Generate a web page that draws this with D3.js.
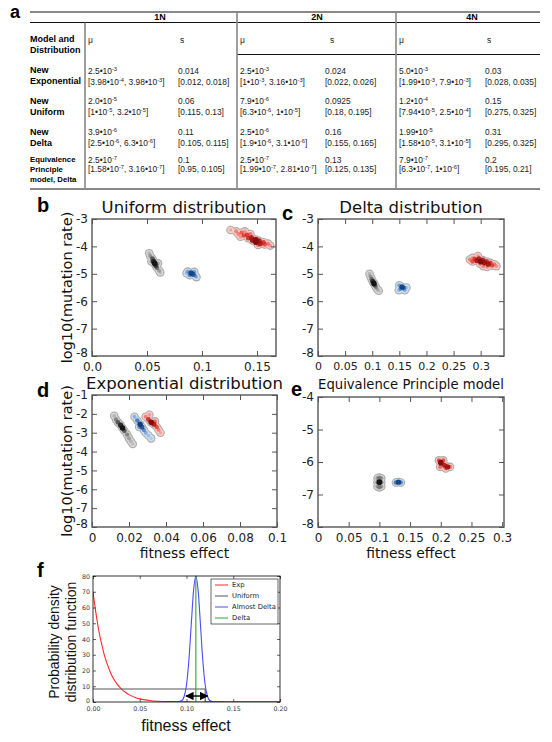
<!DOCTYPE html>
<html><head><meta charset="utf-8">
<script src="https://cdn.jsdelivr.net/npm/d3@7"></script>
<style>body{margin:0;background:#fff}svg{display:block}</style>
</head><body>
<script>
// ---------------- DATA ----------------
// (a) table
const tableColumns = ["1N", "2N", "4N"];
const rowLabels = [["New", "Exponential"], ["New", "Uniform"], ["New", "Delta"], ["Equivalence", "Principle", "model, Delta"]];
const muEstimate = [
  ["2.5•10^{-3}", "2.5•10^{-3}", "5.0•10^{-3}"],
  ["2.0•10^{-5}", "7.9•10^{-6}", "1.2•10^{-4}"],
  ["3.9•10^{-6}", "2.5•10^{-6}", "1.99•10^{-5}"],
  ["2.5•10^{-7}", "2.5•10^{-7}", "7.9•10^{-7}"]
];
const muInterval = [
  ["[3.98•10^{-4}, 3.98•10^{-3}]", "[1•10^{-3}, 3.16•10^{-3}]", "[1.99•10^{-3}, 7.9•10^{-3}]"],
  ["[1•10^{-5}, 3.2•10^{-5}]", "[6.3•10^{-6}, 1•10^{-5}]", "[7.94•10^{-5}, 2.5•10^{-4}]"],
  ["[2.5•10^{-6}, 6.3•10^{-6}]", "[1.9•10^{-6}, 3.1•10^{-6}]", "[1.58•10^{-5}, 3.1•10^{-5}]"],
  ["[1.58•10^{-7}, 3.16•10^{-7}]", "[1.99•10^{-7}, 2.81•10^{-7}]", "[6.3•10^{-7}, 1•10^{-6}]"]
];
const sEstimate = [["0.014", "0.024", "0.03"], ["0.06", "0.0925", "0.15"], ["0.11", "0.16", "0.31"], ["0.1", "0.13", "0.2"]];
const sInterval = [
  ["[0.012, 0.018]", "[0.022, 0.026]", "[0.028, 0.035]"],
  ["[0.115, 0.13]", "[0.18, 0.195]", "[0.275, 0.325]"],
  ["[0.105, 0.115]", "[0.155, 0.165]", "[0.295, 0.325]"],
  ["[0.95, 0.105]", "[0.125, 0.135]", "[0.195, 0.21]"]
];

// (b)-(e) posterior clouds: [fitness effect, log10(mutation rate), density level]
const uniformBlack = [[0.052,-4.25,0.2],[0.053,-4.35,0.4],[0.055,-4.45,0.7],[0.056,-4.55,0.9],[0.057,-4.62,1],[0.058,-4.7,0.8],[0.059,-4.78,0.6],[0.061,-4.88,0.35],[0.062,-4.95,0.15],[0.054,-4.55,0.3],[0.06,-4.62,0.3]];
const uniformBlue = [[0.087,-4.92,0.4],[0.09,-4.97,0.9],[0.092,-5.02,0.8],[0.094,-5.08,0.4],[0.089,-5.05,0.5],[0.093,-4.93,0.4],[0.086,-4.98,0.2],[0.095,-5.12,0.2]];
const uniformRed = [[0.126,-3.40,0.1],[0.131,-3.45,0.3],[0.133,-3.55,0.3],[0.136,-3.5,0.45],[0.138,-3.6,0.55],[0.141,-3.58,0.6],[0.142,-3.7,0.65],[0.145,-3.68,0.8],[0.146,-3.78,0.9],[0.149,-3.75,0.95],[0.149,-3.85,1],[0.152,-3.8,0.85],[0.153,-3.9,0.8],[0.156,-3.85,0.6],[0.157,-3.93,0.5],[0.16,-3.9,0.35],[0.162,-3.97,0.2],[0.139,-3.45,0.2],[0.144,-3.55,0.35],[0.151,-3.95,0.4],[0.135,-3.65,0.2]];

const deltaBlack = [[0.095,-5.0,0.2],[0.097,-5.1,0.4],[0.099,-5.2,0.6],[0.101,-5.28,0.85],[0.103,-5.35,1],[0.105,-5.42,0.7],[0.107,-5.5,0.45],[0.11,-5.58,0.2],[0.112,-5.62,0.1]];
const deltaBlue = [[0.15,-5.42,0.4],[0.155,-5.48,0.9],[0.158,-5.52,0.7],[0.152,-5.55,0.5],[0.16,-5.6,0.3],[0.149,-5.6,0.2],[0.163,-5.5,0.2]];
const deltaRed = [[0.28,-4.48,0.3],[0.285,-4.55,0.5],[0.289,-4.45,0.6],[0.293,-4.52,0.85],[0.297,-4.45,0.8],[0.3,-4.55,1],[0.304,-4.5,0.8],[0.307,-4.6,0.9],[0.311,-4.55,0.7],[0.314,-4.65,0.85],[0.318,-4.6,0.6],[0.321,-4.7,0.5],[0.325,-4.65,0.35],[0.329,-4.72,0.2],[0.295,-4.35,0.2],[0.305,-4.72,0.3],[0.299,-4.63,0.4],[0.312,-4.75,0.25],[0.285,-4.42,0.2]];

const expBlack = [[0.012,-2.1,0.2],[0.013,-2.3,0.5],[0.014,-2.45,0.7],[0.0155,-2.6,0.9],[0.0165,-2.75,1],[0.0175,-2.9,0.7],[0.019,-3.1,0.5],[0.02,-3.3,0.35],[0.021,-3.45,0.2],[0.022,-3.6,0.1]];
const expBlue = [[0.023,-2.15,0.3],[0.0245,-2.35,0.6],[0.026,-2.55,0.95],[0.027,-2.7,0.8],[0.028,-2.85,0.5],[0.029,-3.0,0.35],[0.0305,-3.15,0.2],[0.032,-3.3,0.1],[0.0255,-2.7,0.4]];
const expRed = [[0.029,-2.15,0.3],[0.0305,-2.3,0.7],[0.032,-2.45,1],[0.0335,-2.55,0.8],[0.035,-2.7,0.5],[0.036,-2.85,0.3],[0.037,-3.0,0.1],[0.031,-2.05,0.2],[0.034,-2.4,0.4]];

const epBlack = [[0.097,-6.5,0.4],[0.103,-6.5,0.4],[0.1,-6.62,1],[0.097,-6.75,0.4],[0.103,-6.75,0.4],[0.1,-6.78,0.5],[0.1,-6.48,0.5],[0.097,-6.62,0.5],[0.103,-6.62,0.5]];
const epBlue = [[0.127,-6.63,0.6],[0.131,-6.62,0.9],[0.135,-6.63,0.5]];
const epRed = [[0.197,-5.95,0.5],[0.2,-6.02,1],[0.204,-5.95,0.5],[0.206,-6.1,0.8],[0.211,-6.15,0.9],[0.215,-6.15,0.4],[0.199,-6.15,0.4],[0.208,-6.2,0.4]];

// tick labels
const xTicksUniform = [0, 0.05, 0.1, 0.15];
const xTickLabelsUniform = ["0.0", "0.05", "0.1", "0.15"];
const xTicksDelta = [0, 0.05, 0.1, 0.15, 0.2, 0.25, 0.3];
const xTickLabelsDelta = ["0", "0.05", "0.1", "0.15", "0.2", "0.25", "0.3"];
const xTicksExp = [0, 0.02, 0.04, 0.06, 0.08, 0.1];
const xTickLabelsExp = ["0", "0.02", "0.04", "0.06", "0.08", "0.1"];
const xTicksEP = [0, 0.05, 0.1, 0.15, 0.2, 0.25, 0.3];
const xTickLabelsEP = ["0", "0.05", "0.1", "0.15", "0.2", "0.25", "0.3"];
const yTicksB = [-3, -4, -5, -6, -7, -8];
const yTicksD = [-1, -2, -3, -4, -5, -6, -7, -8];
const yTicksE = [-4, -5, -6, -7, -8];

// (f) probability density functions
const expX = [0, 0.0025, 0.005, 0.0075, 0.01, 0.0125, 0.015, 0.0175, 0.02, 0.025, 0.03, 0.035, 0.04, 0.045, 0.05, 0.06, 0.07, 0.08, 0.09, 0.1, 0.12, 0.14, 0.16, 0.18, 0.2];
const expY = [70, 59, 49.5, 41.5, 35, 29, 24.5, 20.5, 17, 12, 8.5, 6, 4.2, 2.9, 2.0, 1.0, 0.5, 0.25, 0.12, 0.06, 0.02, 0, 0, 0, 0];
const uniformX = [0, 0.12, 0.12, 0.2];
const uniformY = [8.3, 8.3, 0, 0];
const almostDeltaX = [0.08, 0.09, 0.095, 0.0975, 0.1, 0.1025, 0.105, 0.1075, 0.11, 0.1125, 0.115, 0.1175, 0.12, 0.1225, 0.125, 0.13, 0.14];
const almostDeltaY = [0, 0.03, 0.9, 3.5, 10.8, 26, 48.4, 70.4, 80, 70.4, 48.4, 26, 10.8, 3.5, 0.9, 0.03, 0];
const deltaX = [0.11, 0.11];
const deltaY = [0, 80];
const arrowX = [0.0995, 0.1225];
const arrowY = 3.8;
const legendNames = ["Exp", "Uniform", "Almost Delta", "Delta"];
const fXTicks = [0, 0.05, 0.1, 0.15, 0.2];
const fYTicks = [0, 10, 20, 30, 40, 50, 60, 70, 80];

// ---------------- DRAWING ----------------
const W = 552, H = 742;
const SANS = "'Liberation Sans', Arial, sans-serif";
const DJV = "'DejaVu Sans', sans-serif";
const svg = d3.select("body").append("svg").attr("width", W).attr("height", H)
  .style("font-family", SANS);
const defs = svg.append("defs");
defs.append("filter").attr("id", "soft").attr("x", "-10%").attr("y", "-10%").attr("width", "120%").attr("height", "120%")
  .append("feGaussianBlur").attr("stdDeviation", 0.55);
const mk = defs.append("marker").attr("id", "ah").attr("viewBox", "0 0 10 10").attr("refX", 9).attr("refY", 5)
  .attr("markerWidth", 6).attr("markerHeight", 6).attr("orient", "auto-start-reverse");
mk.append("path").attr("d", "M0,0 L10,5 L0,10 z").attr("fill", "#000");

// ---- table ----
function rich(textSel, str, size) {
  const parts = str.split(/(\^\{[^}]*\})/).filter(p => p.length);
  let shifted = false;
  const up = size * 0.4;
  parts.forEach(p => {
    if (p.startsWith("^{")) {
      textSel.append("tspan").attr("font-size", size * 0.68).attr("dy", -up).text(p.slice(2, -1));
      shifted = true;
    } else {
      const t = textSel.append("tspan").text(p);
      if (shifted) { t.attr("dy", up); shifted = false; }
    }
  });
}
const T = svg.append("g");
T.append("text").attr("x", 10).attr("y", 18).attr("font-weight", "bold").attr("font-size", 18).text("a");
const tl = (x1, y1, x2, y2, c, w) => T.append("line").attr("x1", x1).attr("y1", y1).attr("x2", x2).attr("y2", y2).attr("stroke", c).attr("stroke-width", w);
tl(30, 12, 540, 12, "#111", 1);
tl(30, 22.5, 540, 22.5, "#111", 1);
tl(237, 54.5, 540, 54.5, "#111", 1);
tl(30, 189, 540, 189, "#111", 1);
tl(85, 22.5, 85, 189, "#888", 1.6);
tl(237, 12, 237, 189, "#888", 1.6);
tl(396, 12, 396, 189, "#888", 1.6);
const groupCenters = [160, 317, 472];
tableColumns.forEach((c, i) => T.append("text").attr("x", groupCenters[i]).attr("y", 20).attr("text-anchor", "middle")
  .attr("font-weight", "bold").attr("font-size", 9).text(c));
T.append("text").attr("x", 30).attr("y", 42).attr("font-weight", "bold").attr("font-size", 9).text("Model and");
T.append("text").attr("x", 30).attr("y", 52.5).attr("font-weight", "bold").attr("font-size", 9).text("Distribution");
const muX = [88, 240, 399], sX = [178, 325, 485], sHeadX = [180, 330, 487];
tableColumns.forEach((c, i) => {
  T.append("text").attr("x", muX[i]).attr("y", 43).attr("font-size", 8.5).attr("fill", "#222").text("μ");
  T.append("text").attr("x", sHeadX[i]).attr("y", 43).attr("font-size", 8.5).attr("fill", "#222").text("s");
});
const valueBase = [[74, 85], [104, 115], [135, 146], [163, 172]];
const labelBase = [[73, 84], [104, 115], [135, 146], [162, 171.5, 181.5]];
rowLabels.forEach((lines, r) => {
  lines.forEach((l, k) => T.append("text").attr("x", 30).attr("y", labelBase[r][k]).attr("font-weight", "bold")
    .attr("font-size", r === 3 ? 7.8 : 9).text(l));
  tableColumns.forEach((c, i) => {
    rich(T.append("text").attr("x", muX[i]).attr("y", valueBase[r][0]).attr("font-size", 8.4).attr("fill", "#222"), muEstimate[r][i], 8.4);
    rich(T.append("text").attr("x", muX[i]).attr("y", valueBase[r][1]).attr("font-size", 8.4).attr("fill", "#222"), muInterval[r][i], 8.4);
    T.append("text").attr("x", sX[i]).attr("y", valueBase[r][0]).attr("font-size", 8.4).attr("fill", "#222").text(sEstimate[r][i]);
    T.append("text").attr("x", sX[i]).attr("y", valueBase[r][1]).attr("font-size", 8.4).attr("fill", "#222").text(sInterval[r][i]);
  });
});

// ---- scatter panels ----
const palettes = {
  black: { light: "#d6d6d6", ramp: ["#bdbdbd", "#6a6a6a", "#121212"] },
  blue: { light: "#cfe0f2", ramp: ["#a6c6e8", "#3a76bf", "#0a3270"] },
  red: { light: "#f8cdc8", ramp: ["#f2a19a", "#e3271f", "#860b0b"] }
};
function scatterPanel(cfg) {
  const x = d3.scaleLinear().domain(cfg.xDomain).range([cfg.left, cfg.right]);
  const y = d3.scaleLinear().domain(cfg.yDomain).range([cfg.bottom, cfg.top]);
  const g = svg.append("g").style("font-family", DJV);
  const layer = g.append("g").attr("filter", "url(#soft)");
  const all = cfg.blobs.flatMap(b => b.pts.map(p => ({ p, pal: palettes[b.color] })));
  layer.append("g").selectAll("circle").data(all).join("circle")
    .attr("cx", d => x(d.p[0])).attr("cy", d => y(d.p[1])).attr("r", 4.3).attr("fill", "#a9a9a9");
  layer.append("g").selectAll("circle").data(all).join("circle")
    .attr("cx", d => x(d.p[0])).attr("cy", d => y(d.p[1])).attr("r", 3.2).attr("fill", d => d.pal.light);
  const sorted = all.slice().sort((a, b) => a.p[2] - b.p[2]);
  layer.append("g").selectAll("circle").data(sorted).join("circle")
    .attr("cx", d => x(d.p[0])).attr("cy", d => y(d.p[1])).attr("r", d => 1.6 + 1.2 * d.p[2])
    .attr("fill", d => d3.scaleLinear().domain([0, 0.5, 1]).range(d.pal.ramp)(d.p[2]))
    .attr("opacity", d => 0.5 + 0.5 * d.p[2]);

  const tickStyle = sel => {
    sel.select(".domain").remove();
    sel.selectAll(".tick line").attr("stroke", "#555").attr("stroke-width", 1);
    sel.selectAll(".tick text").attr("fill", "#222");
  };
  const yMin = cfg.yDomain[0];
  g.append("g").attr("transform", `translate(0,${cfg.bottom})`)
    .call(d3.axisBottom(x).tickValues(cfg.xTicks).tickFormat((d, i) => cfg.xTickLabels[i]).tickSizeInner(-5).tickSizeOuter(0).tickPadding(6))
    .call(tickStyle).call(s => s.selectAll(".tick text").attr("font-size", cfg.xTickSize).style("font-family", DJV));
  g.append("g").attr("transform", `translate(0,${cfg.top})`)
    .call(d3.axisTop(x).tickValues(cfg.xTicks).tickFormat("").tickSizeInner(-5).tickSizeOuter(0))
    .call(tickStyle);
  g.append("g").attr("transform", `translate(${cfg.left},0)`)
    .call(d3.axisLeft(y).tickValues(cfg.yTicks).tickFormat(d => String(d)).tickSizeInner(-5).tickSizeOuter(0).tickPadding(4))
    .call(tickStyle).call(s => s.selectAll(".tick text").attr("font-size", 12).style("font-family", DJV))
    .call(s => s.selectAll(".tick text").filter(d => d === yMin).attr("dy", "0.08em"));
  g.append("g").attr("transform", `translate(${cfg.right},0)`)
    .call(d3.axisRight(y).tickValues(cfg.yTicks).tickFormat("").tickSizeInner(-5).tickSizeOuter(0))
    .call(tickStyle);
  g.append("rect").attr("x", cfg.left).attr("y", cfg.top).attr("width", cfg.right - cfg.left).attr("height", cfg.bottom - cfg.top)
    .attr("fill", "none").attr("stroke", "#555").attr("stroke-width", 1.4);

  g.append("text").attr("x", (cfg.left + cfg.right) / 2).attr("y", cfg.titleY).attr("text-anchor", "middle")
    .attr("font-size", cfg.titleSize).attr("fill", "#111").text(cfg.title);
  if (cfg.yLabel) {
    g.append("text").attr("transform", `translate(72,${(cfg.top + cfg.bottom) / 2}) rotate(-90)`).attr("text-anchor", "middle")
      .attr("font-size", 14.5).attr("fill", "#111").text("log10(mutation rate)");
  }
  if (cfg.xLabel) {
    g.append("text").attr("x", (cfg.left + cfg.right) / 2).attr("y", 558).attr("text-anchor", "middle")
      .attr("font-size", 13.8).attr("fill", "#111").text("fitness effect");
  }
  svg.append("text").attr("x", cfg.letterX).attr("y", cfg.letterY).attr("font-weight", "bold").attr("font-size", 20)
    .style("font-family", SANS).text(cfg.letter);
}

scatterPanel({ letter: "b", letterX: 37, letterY: 212, title: "Uniform distribution", titleSize: 16.5, titleY: 213,
  left: 92, right: 276, top: 219, bottom: 356, xDomain: [0, 0.1673], yDomain: [-8, -3],
  xTicks: xTicksUniform, xTickLabels: xTickLabelsUniform, xTickSize: 12, yTicks: yTicksB, yLabel: true, xLabel: false,
  blobs: [{ pts: uniformBlack, color: "black" }, { pts: uniformBlue, color: "blue" }, { pts: uniformRed, color: "red" }] });
scatterPanel({ letter: "c", letterX: 282, letterY: 220, title: "Delta distribution", titleSize: 16.5, titleY: 213,
  left: 318, right: 504, top: 219, bottom: 356, xDomain: [0, 0.343], yDomain: [-8, -3],
  xTicks: xTicksDelta, xTickLabels: xTickLabelsDelta, xTickSize: 11, yTicks: yTicksB, yLabel: false, xLabel: false,
  blobs: [{ pts: deltaBlack, color: "black" }, { pts: deltaBlue, color: "blue" }, { pts: deltaRed, color: "red" }] });
scatterPanel({ letter: "d", letterX: 37, letterY: 397, title: "Exponential distribution", titleSize: 16.5, titleY: 389,
  left: 92, right: 277, top: 395, bottom: 527, xDomain: [0, 0.1], yDomain: [-8, -1],
  xTicks: xTicksExp, xTickLabels: xTickLabelsExp, xTickSize: 12, yTicks: yTicksD, yLabel: true, xLabel: true,
  blobs: [{ pts: expBlack, color: "black" }, { pts: expBlue, color: "blue" }, { pts: expRed, color: "red" }] });
scatterPanel({ letter: "e", letterX: 291, letterY: 396, title: "Equivalence Principle model", titleSize: 13.2, titleY: 389,
  left: 318, right: 504, top: 397, bottom: 527, xDomain: [0, 0.303], yDomain: [-8, -4],
  xTicks: xTicksEP, xTickLabels: xTickLabelsEP, xTickSize: 12, yTicks: yTicksE, yLabel: false, xLabel: true,
  blobs: [{ pts: epBlack, color: "black" }, { pts: epBlue, color: "blue" }, { pts: epRed, color: "red" }] });

// ---- panel f ----
(function () {
  const L = 93, R = 280, Tp = 576, B = 702;
  const x = d3.scaleLinear().domain([0, 0.2]).range([L, R]);
  const y = d3.scaleLinear().domain([0, 80]).range([B, Tp]);
  const g = svg.append("g");
  const clipId = "fclip";
  defs.append("clipPath").attr("id", clipId).append("rect").attr("x", L).attr("y", Tp - 1).attr("width", R - L).attr("height", B - Tp + 1);
  const plot = g.append("g").attr("clip-path", `url(#${clipId})`);
  const line = d3.line().x(d => x(d[0])).y(d => y(d[1]));
  const series = [
    { name: legendNames[0], xs: expX, ys: expY, color: "#ff2a2a", curve: d3.curveMonotoneX },
    { name: legendNames[1], xs: uniformX, ys: uniformY, color: "#555555", curve: d3.curveLinear },
    { name: legendNames[2], xs: almostDeltaX, ys: almostDeltaY, color: "#4a4aff", curve: d3.curveMonotoneX },
    { name: legendNames[3], xs: deltaX, ys: deltaY, color: "#3c9a3c", curve: d3.curveLinear }
  ];
  series.forEach(s => {
    plot.append("path").datum(s.xs.map((v, i) => [v, s.ys[i]]))
      .attr("d", line.curve(s.curve)).attr("fill", "none").attr("stroke", s.color).attr("stroke-width", 1.1);
  });
  plot.append("line").attr("x1", x(arrowX[0])).attr("x2", x(arrowX[1])).attr("y1", y(arrowY)).attr("y2", y(arrowY))
    .attr("stroke", "#000").attr("stroke-width", 1.4).attr("marker-start", "url(#ah)").attr("marker-end", "url(#ah)");

  const tickStyle = sel => {
    sel.select(".domain").remove();
    sel.selectAll(".tick line").attr("stroke", "#000").attr("stroke-width", 0.6);
    sel.selectAll(".tick text").attr("fill", "#333").attr("font-size", 6.3).style("font-family", DJV);
  };
  g.append("g").attr("transform", `translate(0,${B})`)
    .call(d3.axisBottom(x).tickValues(fXTicks).tickFormat(d3.format(".2f")).tickSizeInner(-3).tickSizeOuter(0).tickPadding(5)).call(tickStyle);
  g.append("g").attr("transform", `translate(0,${Tp})`)
    .call(d3.axisTop(x).tickValues(fXTicks).tickFormat("").tickSizeInner(-3).tickSizeOuter(0)).call(tickStyle);
  g.append("g").attr("transform", `translate(${L},0)`)
    .call(d3.axisLeft(y).tickValues(fYTicks).tickFormat(d3.format("d")).tickSizeInner(-3).tickSizeOuter(0).tickPadding(3)).call(tickStyle)
    .call(s => s.selectAll(".tick text").filter(d => d === 0).attr("dy", "0.1em"));
  g.append("g").attr("transform", `translate(${R},0)`)
    .call(d3.axisRight(y).tickValues(fYTicks).tickFormat("").tickSizeInner(-3).tickSizeOuter(0)).call(tickStyle);
  g.append("rect").attr("x", L).attr("y", Tp).attr("width", R - L).attr("height", B - Tp)
    .attr("fill", "none").attr("stroke", "#000").attr("stroke-width", 0.8);

  // legend
  const lg = g.append("g");
  lg.append("rect").attr("x", 211).attr("y", 579).attr("width", 67).attr("height", 45)
    .attr("fill", "#fff").attr("stroke", "#000").attr("stroke-width", 0.6);
  series.forEach((s, i) => {
    const yy = 585 + i * 11;
    lg.append("line").attr("x1", 215).attr("x2", 228).attr("y1", yy).attr("y2", yy).attr("stroke", s.color).attr("stroke-width", 1);
    lg.append("text").attr("x", 232).attr("y", yy + 2.4).attr("font-size", 6.8).attr("fill", "#222").style("font-family", DJV).text(s.name);
  });

  g.append("text").attr("transform", `translate(59,642) rotate(-90)`).attr("text-anchor", "middle")
    .attr("font-size", 14).attr("fill", "#111").text("Probability density");
  g.append("text").attr("transform", `translate(76,642) rotate(-90)`).attr("text-anchor", "middle")
    .attr("font-size", 14).attr("fill", "#111").text("distribution function");
  g.append("text").attr("x", 186).attr("y", 731).attr("text-anchor", "middle").attr("font-size", 16).attr("fill", "#111").text("fitness effect");
  svg.append("text").attr("x", 37).attr("y", 577).attr("font-weight", "bold").attr("font-size", 20).text("f");
})();
</script>
</body></html>
